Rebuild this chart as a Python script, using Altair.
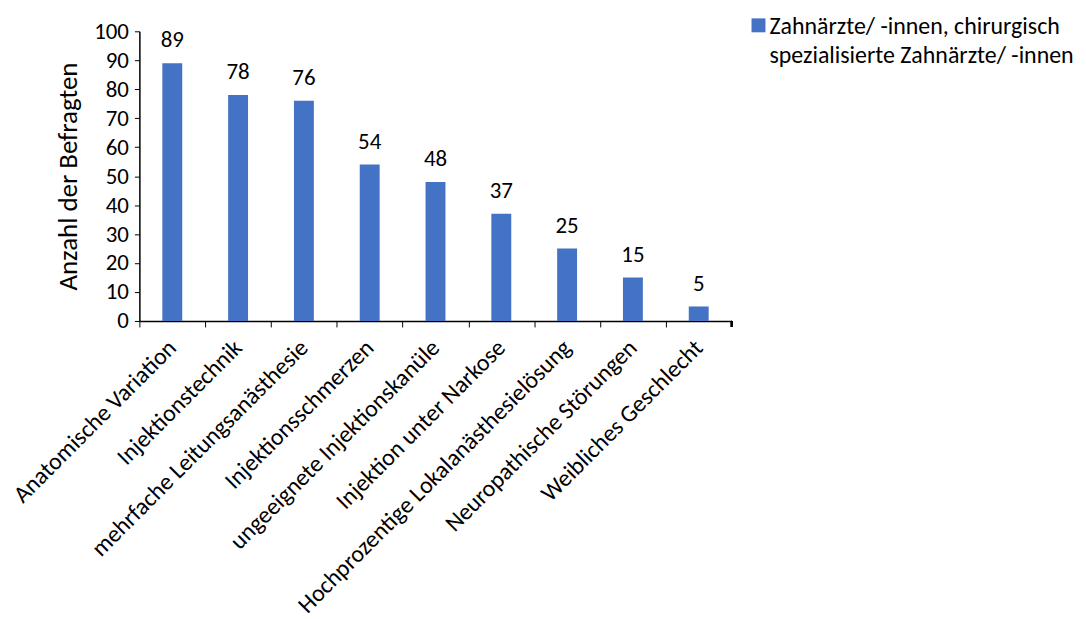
import altair as alt
import pandas as pd

categories = [
    "Anatomische Variation",
    "Injektionstechnik",
    "mehrfache Leitungsanästhesie",
    "Injektionsschmerzen",
    "ungeeignete Injektionskanüle",
    "Injektion unter Narkose",
    "Hochprozentige Lokalanästhesielösung",
    "Neuropathische Störungen",
    "Weibliches Geschlecht",
]
values = [89, 78, 76, 54, 48, 37, 25, 15, 5]
series_lines = ["Zahnärzte/ -innen, chirurgisch", "spezialisierte Zahnärzte/ -innen"]
y_ticks = [0, 10, 20, 30, 40, 50, 60, 70, 80, 90, 100]

df = pd.DataFrame({"Kategorie": categories, "Wert": values})

FONT = "Carlito, Lato"
BLUE = "#4472C4"
W, H = 595, 291
HALF = W / 18

base = alt.Chart(df)

x = alt.X(
    "Kategorie:N",
    sort=categories,
    scale=alt.Scale(paddingInner=0, paddingOuter=0),
    axis=alt.Axis(
        title=None,
        labelAngle=-45,
        labelAlign="right",
        labelBaseline="middle",
        labelFontSize=24,
        labelColor="black",
        labelPadding=17,
        labelLimit=600,
        tickOffset=-HALF,
        labelOffset=HALF,
        tickSize=6,
        tickColor="black",
        domainColor="black",
        domainWidth=1.5,
        labelFont=FONT,
        labelOverlap=False,
    ),
)
y = alt.Y(
    "Wert:Q",
    scale=alt.Scale(domain=[0, 100]),
    axis=alt.Axis(
        title="Anzahl der Befragten",
        titleFontSize=27,
        titleFontWeight="normal",
        titleFont=FONT,
        titleColor="black",
        titlePadding=11,
        values=y_ticks,
        tickCount=11,
        labelFontSize=23,
        labelFont=FONT,
        labelColor="black",
        labelOverlap=False,
        tickSize=5,
        tickColor="black",
        domainColor="black",
        domainWidth=1.5,
        grid=False,
        labelPadding=6,
    ),
)

bars = base.mark_bar(size=20, color=BLUE).encode(x=x, y=y)

labels = base.mark_text(baseline="bottom", dy=-11, fontSize=23, font=FONT, color="black").encode(
    x=x,
    y=y,
    text="Wert:Q",
)

end_tick = base.mark_rule(color="black", strokeWidth=1.5).encode(
    x=alt.value(W), y=alt.value(H), y2=alt.value(H + 6)
)

legend_df = pd.DataFrame({"t": ["|".join(series_lines)]})
legend_sym = alt.Chart(legend_df).mark_square(size=196, color=BLUE, opacity=1).encode(
    x=alt.value(622), y=alt.value(-6)
)
legend_txt = alt.Chart(legend_df).mark_text(
    align="left", baseline="alphabetic", fontSize=24, font=FONT, color="black", lineHeight=29
).encode(
    x=alt.value(633), y=alt.value(3), text=alt.Text("t2:N")
).transform_calculate(t2="split(datum.t, '|')")

chart = (
    alt.layer(bars, labels, end_tick, legend_sym, legend_txt)
    .properties(
        width=W,
        height=H,
        autosize=alt.AutoSizeParams(type="none"),
        padding={"left": 132, "top": 22, "right": 348, "bottom": 296},
    )
    .configure_view(stroke=None)
)

chart.save("out.html", embed_options={"renderer": "svg", "actions": False})
